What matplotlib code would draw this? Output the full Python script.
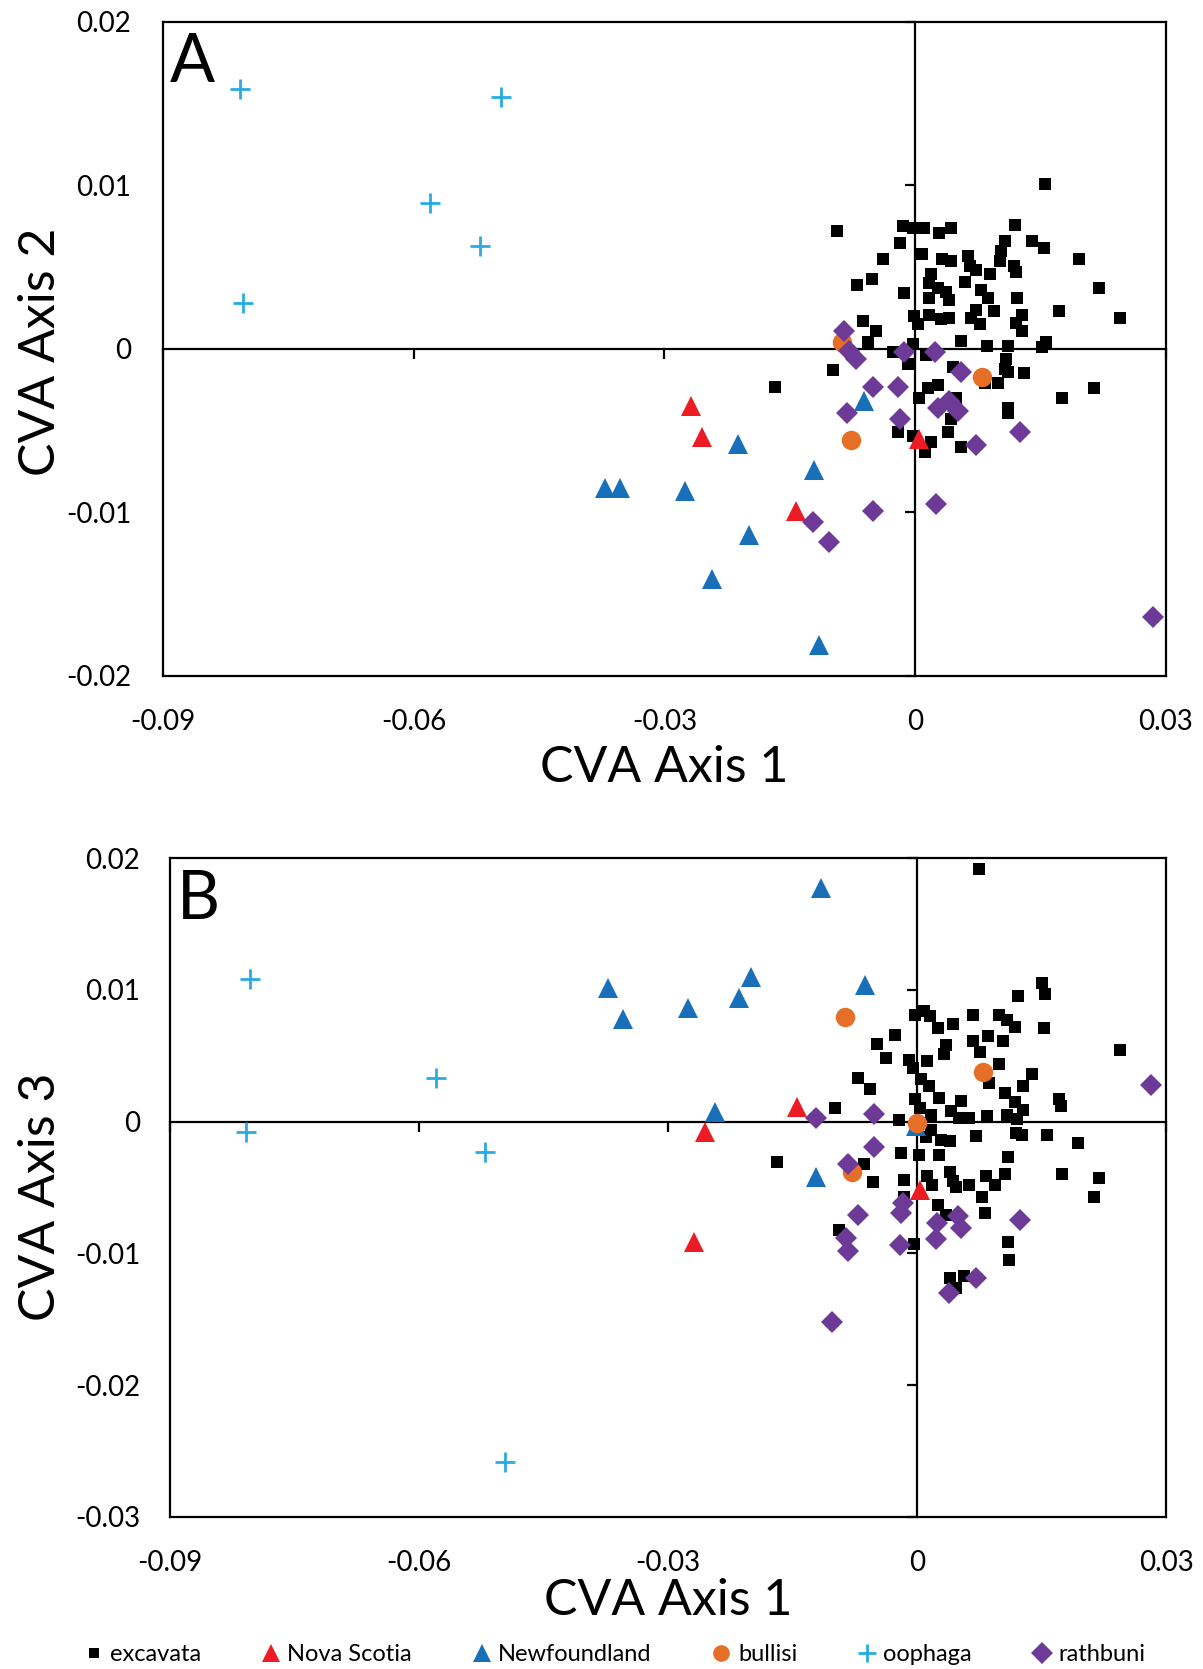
import matplotlib
matplotlib.use("Agg")
import matplotlib.pyplot as plt
from matplotlib.lines import Line2D

plt.rcParams["font.family"] = ["Lato", "DejaVu Sans"]

# ---------------------------------------------------------------------------
# Data: (CVA axis 1, CVA axis 2) for panel A, (CVA axis 1, CVA axis 3) for B
# ---------------------------------------------------------------------------

groups = ["excavata", "Nova Scotia", "Newfoundland", "bullisi", "oophaga", "rathbuni"]

excavata_a = [
    (0.0155, 0.0101), (-0.0094, 0.0072), (-0.0015, 0.0075), (-0.0003, 0.0074),
    (0.0010, 0.0074), (0.0029, 0.0071), (0.0043, 0.0074), (0.0119, 0.0076),
    (-0.0018, 0.0065), (0.0107, 0.0066), (0.0140, 0.0066), (0.0154, 0.0062),
    (-0.0038, 0.0055), (0.0008, 0.0058), (0.0032, 0.0055), (0.0043, 0.0054),
    (0.0063, 0.0057), (0.0103, 0.0060), (0.0196, 0.0055), (0.0065, 0.0051),
    (0.0073, 0.0048), (0.0101, 0.0054), (0.0118, 0.0051), (0.0120, 0.0047),
    (0.0019, 0.0046), (0.0089, 0.0046), (-0.0052, 0.0043), (-0.0070, 0.0039),
    (0.0017, 0.0040), (0.0059, 0.0041), (0.0220, 0.0037), (-0.0014, 0.0034),
    (0.0027, 0.0037), (0.0037, 0.0035), (0.0079, 0.0036), (0.0017, 0.0031),
    (0.0041, 0.0030), (0.0087, 0.0031), (0.0122, 0.0031), (0.0073, 0.0024),
    (0.0094, 0.0023), (0.0172, 0.0023), (0.0245, 0.0019), (-0.0002, 0.0020),
    (0.0017, 0.0021), (0.0031, 0.0018), (0.0041, 0.0019), (0.0067, 0.0019),
    (0.0077, 0.0015), (0.0128, 0.0021), (0.0120, 0.0016), (0.0128, 0.0011),
    (-0.0063, 0.0017), (0.0003, 0.0015), (-0.0047, 0.0011), (-0.0057, 0.0004),
    (-0.0003, 0.0003), (0.0055, 0.0005), (0.0086, 0.0002), (0.0111, 0.0002),
    (0.0156, 0.0004), (0.0152, 0.0001), (-0.0026, -0.0002), (0.0013, -0.0004),
    (-0.0009, -0.0009), (0.0109, -0.0006), (0.0107, -0.0012), (0.0111, -0.0014),
    (0.0045, -0.0011), (-0.0098, -0.0013), (0.0130, -0.0015), (-0.0168, -0.0023),
    (0.0083, -0.0021), (0.0099, -0.0021), (0.0015, -0.0024), (0.0027, -0.0022),
    (0.0005, -0.0030), (0.0049, -0.0030), (0.0176, -0.0030), (0.0214, -0.0024),
    (0.0111, -0.0036), (0.0111, -0.0039), (0.0043, -0.0043), (-0.0021, -0.0051),
    (-0.0003, -0.0053), (0.0019, -0.0057), (0.0012, -0.0063), (0.0039, -0.0051),
    (0.0055, -0.0060),
]
nova_scotia_a = [(0.0005, -0.0055), (-0.0268, -0.0035), (-0.0255, -0.0054), (-0.0143, -0.0099)]
newfoundland_a = [
    (-0.0061, -0.0032), (-0.0121, -0.0074), (-0.0212, -0.0058), (-0.0371, -0.0085),
    (-0.0353, -0.0085), (-0.0275, -0.0087), (-0.0199, -0.0114), (-0.0243, -0.0141),
    (-0.0115, -0.0181),
]
bullisi_a = [(-0.0087, 0.0004), (0.0080, -0.0017), (-0.0077, -0.0056)]
oophaga_a = [(-0.0808, 0.0159), (-0.0495, 0.0154), (-0.0580, 0.0089), (-0.0521, 0.0063), (-0.0804, 0.0028)]
rathbuni_a = [
    (-0.0085, 0.0011), (-0.0079, -0.0001), (-0.0071, -0.0006), (-0.0013, -0.0002),
    (0.0024, -0.0002), (0.0055, -0.0014), (-0.0051, -0.0023), (-0.0020, -0.0023),
    (-0.0082, -0.0039), (-0.0018, -0.0043), (0.0027, -0.0036), (0.0041, -0.0032),
    (0.0051, -0.0038), (0.0073, -0.0059), (0.0125, -0.0051), (0.0025, -0.0095),
    (-0.0122, -0.0106), (-0.0103, -0.0118), (-0.0051, -0.0099), (0.0285, -0.0164),
]

excavata_b = [
    (0.0075, 0.0192), (0.0151, 0.0105), (0.0154, 0.0097), (0.0122, 0.0095),
    (-0.0003, 0.0081), (0.0008, 0.0084), (0.0016, 0.0080), (0.0025, 0.0071),
    (0.0043, 0.0074), (0.0067, 0.0081), (0.0099, 0.0081), (0.0108, 0.0077),
    (0.0118, 0.0072), (0.0153, 0.0071), (-0.0026, 0.0066), (-0.0048, 0.0059),
    (-0.0038, 0.0048), (0.0035, 0.0058), (0.0033, 0.0051), (0.0067, 0.0061),
    (0.0086, 0.0065), (0.0104, 0.0061), (0.0076, 0.0053), (0.0244, 0.0054),
    (-0.0010, 0.0047), (0.0012, 0.0046), (-0.0005, 0.0041), (0.0099, 0.0044),
    (-0.0071, 0.0033), (-0.0057, 0.0025), (0.0005, 0.0032), (0.0015, 0.0027),
    (0.0087, 0.0029), (0.0139, 0.0036), (0.0128, 0.0027), (0.0106, 0.0022),
    (0.0027, 0.0018), (-0.0002, 0.0017), (0.0053, 0.0016), (0.0118, 0.0015),
    (0.0171, 0.0017), (0.0173, 0.0012), (-0.0099, 0.0010), (0.0003, 0.0010),
    (0.0017, 0.0005), (0.0041, 0.0008), (0.0051, 0.0003), (0.0063, 0.0003),
    (0.0084, 0.0004), (0.0108, 0.0005), (0.0128, 0.0009), (0.0120, 0.0002),
    (-0.0022, 0.0001), (0.0017, -0.0006), (0.0011, -0.0012), (0.0029, -0.0014),
    (0.0040, -0.0015), (0.0071, -0.0011), (0.0119, -0.0009), (0.0127, -0.0010),
    (0.0156, -0.0010), (0.0194, -0.0016), (-0.0169, -0.0031), (-0.0019, -0.0024),
    (0.0002, -0.0025), (0.0027, -0.0025), (0.0110, -0.0027), (-0.0064, -0.0032),
    (-0.0053, -0.0046), (-0.0016, -0.0044), (0.0012, -0.0041), (0.0018, -0.0048),
    (0.0040, -0.0038), (0.0043, -0.0045), (0.0047, -0.0050), (0.0063, -0.0048),
    (0.0083, -0.0041), (0.0094, -0.0048), (0.0106, -0.0040), (0.0175, -0.0040),
    (0.0219, -0.0043), (0.0213, -0.0057), (0.0078, -0.0057), (-0.0016, -0.0057),
    (0.0025, -0.0063), (0.0082, -0.0069), (0.0035, -0.0071), (-0.0094, -0.0082),
    (-0.0004, -0.0093), (0.0109, -0.0091), (0.0111, -0.0105), (0.0040, -0.0119),
    (0.0056, -0.0117), (0.0047, -0.0126),
]
nova_scotia_b = [(-0.0145, 0.0011), (0.0004, -0.0052), (-0.0256, -0.0008), (-0.0269, -0.0091)]
newfoundland_b = [
    (-0.0116, 0.0177), (-0.0372, 0.0101), (-0.0354, 0.0078), (-0.0276, 0.0086),
    (-0.0200, 0.0110), (-0.0214, 0.0094), (-0.0063, 0.0104), (-0.0244, 0.0007),
    (-0.0122, -0.0042), (-0.0001, -0.0003),
]
bullisi_b = [(-0.0087, 0.0079), (0.0079, 0.0038), (0.0000, -0.0001), (-0.0078, -0.0038)]
oophaga_b = [(-0.0804, 0.0108), (-0.0580, 0.0033), (-0.0808, -0.0008), (-0.0521, -0.0023), (-0.0496, -0.0258)]
rathbuni_b = [
    (-0.0122, 0.0003), (-0.0052, 0.0006), (-0.0052, -0.0019), (-0.0083, -0.0032),
    (-0.0071, -0.0071), (-0.0017, -0.0062), (-0.0019, -0.0069), (-0.0086, -0.0088),
    (-0.0083, -0.0098), (-0.0021, -0.0094), (0.0024, -0.0077), (0.0023, -0.0089),
    (0.0049, -0.0072), (0.0053, -0.0081), (0.0071, -0.0119), (0.0039, -0.0130),
    (0.0124, -0.0075), (0.0282, 0.0028), (-0.0103, -0.0152),
]

x_ticks = [-0.09, -0.06, -0.03, 0, 0.03]
x_tick_labels = ["-0.09", "-0.06", "-0.03", "0", "0.03"]
y_ticks_a = [-0.02, -0.01, 0, 0.01, 0.02]
y_tick_labels_a = ["-0.02", "-0.01", "0", "0.01", "0.02"]
y_ticks_b = [-0.03, -0.02, -0.01, 0, 0.01, 0.02]
y_tick_labels_b = ["-0.03", "-0.02", "-0.01", "0", "0.01", "0.02"]

# marker style per group (Excel-like)
styles = {
    "excavata":     dict(marker="s", color="#000000", ms=9),
    "Nova Scotia":  dict(marker="^", color="#ED1C24", ms=14.5),
    "Newfoundland": dict(marker="^", color="#1A70B8", ms=14.5),
    "bullisi":      dict(marker="o", color="#E56F26", ms=14),
    "oophaga":      dict(marker="+", color="#29ABE2", ms=14.5),
    "rathbuni":     dict(marker="D", color="#6E3A98", ms=11),
}


def draw_panel(fig, rect, series, yticks, ylabels, ylim, letter, ypad, xlab_y, ylab_x, ylab_y):
    # background axes: zero lines with tick marks, drawn below the points
    base = fig.add_axes(rect)
    base.set_xlim(-0.09, 0.03)
    base.set_ylim(*ylim)
    base.spines["left"].set_position(("data", 0))
    base.spines["bottom"].set_position(("data", 0))
    base.spines["top"].set_visible(False)
    base.spines["right"].set_visible(False)
    for s in ("left", "bottom"):
        base.spines[s].set_linewidth(1.6)
    base.set_xticks(x_ticks)
    base.set_yticks(yticks)
    base.tick_params(direction="out", length=7, width=1.6, labelbottom=False, labelleft=False)

    ax = fig.add_axes(rect)
    ax.patch.set_visible(False)
    ax.set_xlim(-0.09, 0.03)
    ax.set_ylim(*ylim)
    for s in ax.spines.values():
        s.set_linewidth(1.6)
    ax.set_xticks(x_ticks, x_tick_labels)
    ax.set_yticks(yticks, ylabels)
    ax.tick_params(axis="x", length=0, pad=23.5, labelsize=20)
    ax.tick_params(axis="y", length=0, pad=ypad, labelsize=20)

    for i, (name, pts) in enumerate(zip(groups, series)):
        st = styles[name]
        xs = [p[0] for p in pts]
        ys = [p[1] for p in pts]
        if st["marker"] == "+":
            ax.plot(xs, ys, ls="none", marker="+", color=st["color"], ms=st["ms"],
                    mew=2.0, zorder=3 + i)
        else:
            ax.plot(xs, ys, ls="none", marker=st["marker"], color=st["color"],
                    ms=st["ms"], mew=0, zorder=3 + i)

    ax.text(0.5, xlab_y, "CVA Axis 1", transform=ax.transAxes, ha="center", va="center",
            fontsize=36)
    ax.text(ylab_x, ylab_y, "CVA Axis 2" if letter == "A" else "CVA Axis 3",
            transform=ax.transAxes, ha="center", va="center", rotation=90, fontsize=36)
    ax.text(0.007, 0.908, letter, transform=ax.transAxes, ha="left", va="baseline",
            fontsize=48)
    return ax


fig = plt.figure(figsize=(12.03, 16.69), dpi=100)
fig.patch.set_facecolor("white")

series_a = [excavata_a, nova_scotia_a, newfoundland_a, bullisi_a, oophaga_a, rathbuni_a]
series_b = [excavata_b, nova_scotia_b, newfoundland_b, bullisi_b, oophaga_b, rathbuni_b]

draw_panel(fig, [0.1355, 0.5950, 0.8337, 0.3919], series_a, y_ticks_a, y_tick_labels_a,
           (-0.02, 0.02), "A", 23, -0.140, -0.1215, 0.495)
draw_panel(fig, [0.1413, 0.0911, 0.8280, 0.3948], series_b, y_ticks_b, y_tick_labels_b,
           (-0.03, 0.02), "B", 21.5, -0.128, -0.1295, 0.486)

# legend along the bottom
legend_ms = {"excavata": 7.5, "Nova Scotia": 13, "Newfoundland": 13, "bullisi": 12,
             "oophaga": 13, "rathbuni": 11}
handles = []
for name in groups:
    st = styles[name]
    handles.append(Line2D([], [], ls="none", marker=st["marker"], color=st["color"],
                          ms=legend_ms[name], mew=2.0 if st["marker"] == "+" else 0))
fig.legend(handles, groups, loc="center", bbox_to_anchor=(0.51, 0.0085), ncol=6,
           frameon=False, fontsize=17, handletextpad=0.2, columnspacing=2.45,
           handlelength=1.0, borderaxespad=0)

fig.savefig("out.png", dpi=100)
